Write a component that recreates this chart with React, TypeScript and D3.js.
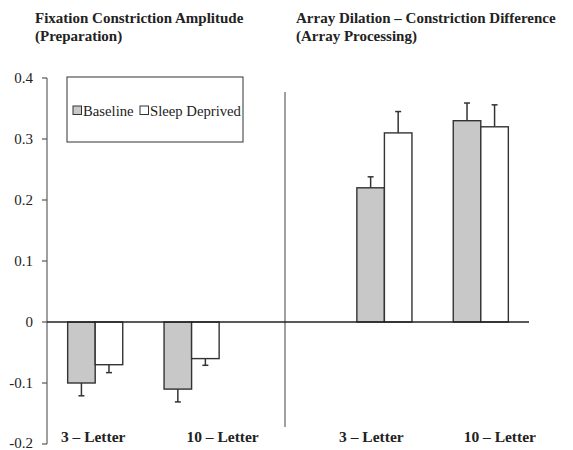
import React from 'react';
import * as d3 from 'd3';

// slots across the plot; the middle one is the gap where the divider sits
const slots = ['L3', 'L10', 'gap', 'R3', 'R10'];
const groups = ['L3', 'L10', 'R3', 'R10'];
const groupLabels = ['3 – Letter', '10 – Letter', '3 – Letter', '10 – Letter'];
const series = ['Baseline', 'Sleep Deprived'];
const baselineVals = [-0.1, -0.11, 0.22, 0.33];
const sleepVals = [-0.07, -0.06, 0.31, 0.32];
const baselineErr = [0.021, 0.021, 0.018, 0.029];
const sleepErr = [0.013, 0.011, 0.035, 0.036];
const yTicks = [0.4, 0.3, 0.2, 0.1, 0, -0.1, -0.2];

const W = 573;
const H = 450;
const font = '"Liberation Serif", "Times New Roman", serif';
const fills = ['#c8c8c8', '#ffffff'];
// category labels sit a little off their bar pairs in the original
const labelShift = [-2, 31, -13, 19];

// plain hyphen for negatives, like the original
const fmt = d3.formatLocale({ decimal: '.', thousands: ',', grouping: [3], currency: ['', ''], minus: '-' }).format('.1f');

const App = () => {
  const x0 = d3.scaleBand().domain(slots).range([47, 529]).padding(0);
  const x1 = d3.scaleBand().domain(series).range([0, x0.bandwidth()]).paddingInner(0).paddingOuter(0.75);
  const y = d3.scaleLinear().domain([-0.2, 0.4]).range([444, 78]);

  const rows = groups.flatMap((g, i) => [
    { g, s: series[0], v: baselineVals[i], e: baselineErr[i] },
    { g, s: series[1], v: sleepVals[i], e: sleepErr[i] },
  ]);

  const axisX = 47;
  const divX = (x0('gap') as number) + x0.bandwidth() / 2 - 3;

  return (
    <svg width={W} height={H} style={{ position: 'absolute', left: 0, top: 0, background: '#fff' }} fontFamily={font}>
      {/* titles */}
      <g fontWeight="bold" fontSize={15} fill="#222">
        <text x={35} y={23}>Fixation Constriction Amplitude</text>
        <text x={35} y={41}>(Preparation)</text>
        <text x={296} y={23}>Array Dilation – Constriction Difference</text>
        <text x={296} y={41}>(Array Processing)</text>
      </g>

      {/* y axis */}
      <line x1={axisX} x2={axisX} y1={y(0.4)} y2={y(-0.2)} stroke="#808080" strokeWidth={1.5} />
      {yTicks.map(t => (
        <g key={t}>
          <line x1={axisX - 5} x2={axisX} y1={y(t)} y2={y(t)} stroke="#555" strokeWidth={1.2} />
          <text x={33} y={y(t)} dy={t === -0.2 ? '0.25em' : '0.35em'} textAnchor="end" fontSize={15} fill="#222">
            {t === 0 ? '0' : fmt(t)}
          </text>
        </g>
      ))}

      {/* divider */}
      <line x1={divX} x2={divX} y1={92} y2={427} stroke="#808080" strokeWidth={1.5} />

      {/* bars */}
      {rows.map((r, i) => {
        const bx = (x0(r.g) as number) + (x1(r.s) as number);
        const bw = x1.bandwidth();
        const top = Math.min(y(r.v), y(0));
        const h = Math.abs(y(r.v) - y(0));
        const cx = bx + bw / 2;
        const tip = y(r.v + Math.sign(r.v) * r.e);
        return (
          <g key={i}>
            <line x1={cx} x2={cx} y1={y(r.v)} y2={tip} stroke="#333" strokeWidth={1.5} />
            <line x1={cx - 3} x2={cx + 3} y1={tip} y2={tip} stroke="#333" strokeWidth={1.5} />
            <rect x={bx} y={top} width={bw} height={h} fill={fills[series.indexOf(r.s)]} stroke="#333" strokeWidth={1.4} />
          </g>
        );
      })}

      {/* zero line */}
      <line x1={axisX} x2={529} y1={y(0)} y2={y(0)} stroke="#222" strokeWidth={1.3} />

      {/* category labels */}
      {groups.map((g, i) => (
        <text key={g} x={(x0(g) as number) + x0.bandwidth() / 2 + labelShift[i]} y={442} textAnchor="middle"
          fontWeight="bold" fontSize={15.5} fill="#222">{groupLabels[i]}</text>
      ))}

      {/* legend */}
      <rect x={67} y={77} width={176} height={65} fill="#fff" stroke="#333" strokeWidth={1} />
      {series.map((s, i) => {
        const lx = [73, 140][i];
        return (
          <g key={s}>
            <rect x={lx} y={106} width={8.5} height={8.5} fill={fills[i]} stroke="#333" strokeWidth={1} />
            <text x={lx + 10} y={110.5} dy="0.35em" fontSize={14.7} fill="#222">{s}</text>
          </g>
        );
      })}
    </svg>
  );
};

export default App;
